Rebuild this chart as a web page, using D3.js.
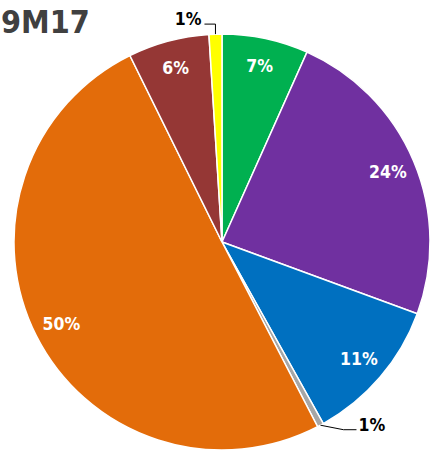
<!DOCTYPE html>
<html>
<head>
<meta charset="utf-8">
<script src="https://cdn.jsdelivr.net/npm/d3@7/dist/d3.min.js"></script>
<style>
  body { margin: 0; background: #fff; }
  svg { display: block; }
  text { font-family: "DejaVu Sans Condensed", "DejaVu Sans", sans-serif; font-weight: bold; font-stretch: condensed; }
</style>
</head>
<body>
<svg width="443" height="450"></svg>
<script>
// slices clockwise from 12 o'clock
const segments = ["green", "purple", "blue", "grey", "orange", "brown", "yellow"];
const shares = [6.7, 23.9, 11.3, 0.5, 50.3, 6.3, 1.0];
const labels = ["7%", "24%", "11%", "1%", "50%", "6%", "1%"];
const colors = ["#00b050", "#7030a0", "#0070c0", "#a6a6a6", "#e36c0a", "#953735", "#ffff00"];

const data = segments.map((s, i) => ({name: s, value: shares[i], label: labels[i]}));

var svg = d3.select("svg"),
    cx = 222, cy = 242,
    radius = 208;

svg.append("text")
    .attr("x", 1)
    .attr("y", 33)
    .attr("fill", "#404040")
    .style("font-size", "32px")
    .text("9M17");

var color = d3.scaleOrdinal().domain(segments).range(colors);

var pie = d3.pie().sort(null).value(d => d.value);
var arc = d3.arc().innerRadius(0).outerRadius(radius);
var labelArc = d3.arc().innerRadius(180).outerRadius(180);
var edgeArc = d3.arc().innerRadius(radius).outerRadius(radius);

var g = svg.append("g").attr("transform", "translate(" + cx + "," + cy + ")");
var arcs = pie(data);

g.selectAll(".slice")
    .data(arcs)
  .enter().append("path")
    .attr("class", "slice")
    .attr("d", arc)
    .attr("fill", d => color(d.data.name))
    .attr("stroke", "#fff")
    .attr("stroke-width", 1.5);

// big slices: label inside
g.selectAll(".lbl")
    .data(arcs.filter(d => d.data.value >= 2))
  .enter().append("text")
    .attr("class", "lbl")
    .attr("transform", d => "translate(" + labelArc.centroid(d) + ")")
    .attr("text-anchor", "middle")
    .attr("dy", "0.36em")
    .attr("fill", "#fff")
    .style("font-size", "17.5px")
    .text(d => d.data.label);

// thin slices: label outside with leader line
arcs.filter(d => d.data.value < 2).forEach(function(d) {
    var p = edgeArc.centroid(d);
    var top = p[1] < 0;
    var pts, tx, ty, anchor;
    if (top) {
        pts = [p, [p[0], p[1] - 10], [p[0] - 11, p[1] - 10]];
        tx = p[0] - 14; ty = p[1] - 9; anchor = "end";
    } else {
        pts = [p, [p[0] + 23, p[1] + 4.5], [p[0] + 36, p[1] + 4.5]];
        tx = p[0] + 38; ty = p[1] + 6; anchor = "start";
    }
    g.append("path")
        .attr("d", d3.line()(pts))
        .attr("fill", "none")
        .attr("stroke", "#000")
        .attr("stroke-width", 1);
    g.append("text")
        .attr("x", tx)
        .attr("y", ty)
        .attr("text-anchor", anchor)
        .attr("fill", "#000")
        .style("font-size", "17.5px")
        .text(d.data.label);
});
</script>
</body>
</html>
